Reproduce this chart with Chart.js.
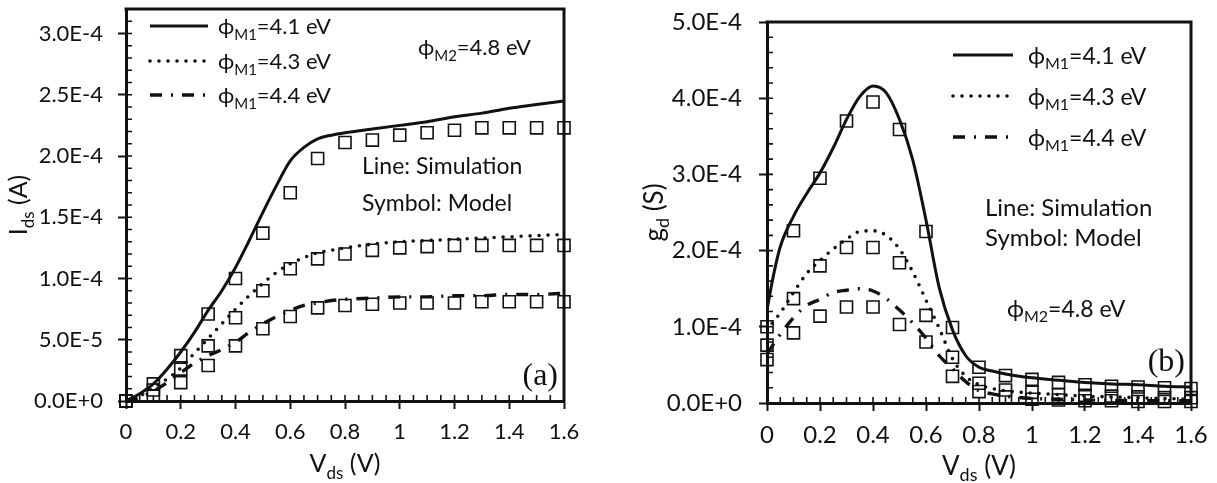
<!DOCTYPE html>
<html>
<head>
<meta charset="utf-8">
<script src="https://cdn.jsdelivr.net/npm/chart.js@4"></script>
<style>
  html, body { margin: 0; padding: 0; background: #fff; }
  #wrap { position: relative; width: 1217px; height: 483px; }
  canvas { position: absolute; top: 0; }
  #ids { left: 0; }
  #gd { left: 600px; }
</style>
</head>
<body>
<div id="wrap">
  <canvas id="ids" width="600" height="483"></canvas>
  <canvas id="gd" width="617" height="483"></canvas>
</div>
<script>
// Vds sweep (V)
const vModel = [0, 0.1, 0.2, 0.3, 0.4, 0.5, 0.6, 0.7, 0.8, 0.9, 1.0, 1.1, 1.2, 1.3, 1.4, 1.5, 1.6];
const vSimIds = [0, 0.05, 0.1, 0.15, 0.2, 0.25, 0.3, 0.35, 0.4, 0.45, 0.5, 0.55, 0.6, 0.65, 0.7, 0.75, 0.8, 0.9, 1.0, 1.1, 1.2, 1.3, 1.4, 1.5, 1.6];
const vSimGd = [0, 0.02, 0.05, 0.1, 0.15, 0.2, 0.25, 0.3, 0.35, 0.4, 0.45, 0.5, 0.55, 0.6, 0.65, 0.7, 0.75, 0.8, 0.85, 0.9, 1.0, 1.1, 1.2, 1.3, 1.4, 1.5, 1.6];

// (a) drain current Ids (A), simulation
const idsSim41 = [0, 0.6e-5, 1.4e-5, 2.6e-5, 4.0e-5, 5.6e-5, 7.4e-5, 9.0e-5, 1.09e-4, 1.31e-4, 1.54e-4, 1.76e-4, 1.96e-4, 2.07e-4, 2.14e-4, 2.17e-4, 2.19e-4, 2.22e-4, 2.25e-4, 2.28e-4, 2.32e-4, 2.35e-4, 2.39e-4, 2.42e-4, 2.45e-4];
const idsSim43 = [0, 0.4e-5, 1.1e-5, 1.8e-5, 2.7e-5, 3.9e-5, 5.1e-5, 6.3e-5, 7.5e-5, 8.6e-5, 9.6e-5, 1.05e-4, 1.12e-4, 1.17e-4, 1.21e-4, 1.23e-4, 1.25e-4, 1.28e-4, 1.30e-4, 1.31e-4, 1.32e-4, 1.33e-4, 1.34e-4, 1.35e-4, 1.36e-4];
const idsSim44 = [0, 0.3e-5, 0.8e-5, 1.5e-5, 2.3e-5, 3.1e-5, 3.7e-5, 4.2e-5, 4.8e-5, 5.6e-5, 6.3e-5, 6.9e-5, 7.4e-5, 7.8e-5, 8.0e-5, 8.2e-5, 8.3e-5, 8.4e-5, 8.5e-5, 8.5e-5, 8.6e-5, 8.6e-5, 8.7e-5, 8.7e-5, 8.8e-5];
// (a) model
const idsMod41 = [0, 1.4e-5, 3.7e-5, 7.1e-5, 1.00e-4, 1.37e-4, 1.70e-4, 1.98e-4, 2.11e-4, 2.13e-4, 2.17e-4, 2.19e-4, 2.21e-4, 2.23e-4, 2.23e-4, 2.23e-4, 2.23e-4];
const idsMod43 = [0, 0.9e-5, 2.6e-5, 4.5e-5, 6.8e-5, 9.0e-5, 1.08e-4, 1.16e-4, 1.20e-4, 1.23e-4, 1.25e-4, 1.26e-4, 1.27e-4, 1.27e-4, 1.27e-4, 1.27e-4, 1.27e-4];
const idsMod44 = [0, 0.4e-5, 1.5e-5, 2.9e-5, 4.5e-5, 5.9e-5, 6.9e-5, 7.6e-5, 7.8e-5, 7.9e-5, 8.0e-5, 8.0e-5, 8.0e-5, 8.1e-5, 8.1e-5, 8.1e-5, 8.1e-5];

// (b) drain conductance gd (S), simulation
const gdSim41 = [1.22e-4, 1.60e-4, 2.05e-4, 2.45e-4, 2.75e-4, 3.02e-4, 3.35e-4, 3.72e-4, 4.02e-4, 4.16e-4, 4.07e-4, 3.72e-4, 3.19e-4, 2.40e-4, 1.51e-4, 0.96e-4, 0.62e-4, 0.47e-4, 0.42e-4, 0.38e-4, 0.33e-4, 0.30e-4, 0.27e-4, 0.25e-4, 0.24e-4, 0.22e-4, 0.21e-4];
const gdSim43 = [0.95e-4, 1.05e-4, 1.18e-4, 1.45e-4, 1.70e-4, 1.87e-4, 2.02e-4, 2.15e-4, 2.25e-4, 2.26e-4, 2.20e-4, 2.02e-4, 1.72e-4, 1.35e-4, 0.98e-4, 0.58e-4, 0.35e-4, 0.24e-4, 0.19e-4, 0.16e-4, 0.13e-4, 0.11e-4, 0.09e-4, 0.08e-4, 0.07e-4, 0.06e-4, 0.05e-4];
const gdSim44 = [0.65e-4, 0.75e-4, 0.90e-4, 1.12e-4, 1.28e-4, 1.36e-4, 1.45e-4, 1.48e-4, 1.50e-4, 1.47e-4, 1.37e-4, 1.22e-4, 1.05e-4, 0.85e-4, 0.62e-4, 0.45e-4, 0.28e-4, 0.16e-4, 0.12e-4, 0.09e-4, 0.06e-4, 0.05e-4, 0.04e-4, 0.035e-4, 0.03e-4, 0.03e-4, 0.03e-4];
// (b) model
const gdMod41 = [1.00e-4, 2.26e-4, 2.95e-4, 3.70e-4, 3.95e-4, 3.59e-4, 2.25e-4, 0.99e-4, 0.47e-4, 0.36e-4, 0.31e-4, 0.27e-4, 0.24e-4, 0.22e-4, 0.21e-4, 0.20e-4, 0.19e-4];
const gdMod43 = [0.76e-4, 1.37e-4, 1.80e-4, 2.04e-4, 2.04e-4, 1.84e-4, 1.15e-4, 0.60e-4, 0.26e-4, 0.17e-4, 0.14e-4, 0.11e-4, 0.10e-4, 0.09e-4, 0.08e-4, 0.07e-4, 0.07e-4];
const gdMod44 = [0.57e-4, 0.92e-4, 1.14e-4, 1.26e-4, 1.26e-4, 1.03e-4, 0.80e-4, 0.35e-4, 0.15e-4, 0.08e-4, 0.05e-4, 0.04e-4, 0.03e-4, 0.03e-4, 0.02e-4, 0.02e-4, 0.02e-4];

const workFns = ['4.1', '4.3', '4.4'];

const ink = '#111';
const sans = 'Lato, "Noto Sans", sans-serif';
const serif = '"Liberation Serif", serif';

const lineStyles = [
  { dash: [], width: 3, cap: 'butt' },             // solid
  { dash: [0, 9], width: 3.6, cap: 'round' },      // dotted
  { dash: [12, 9, 2, 9], width: 3.4, cap: 'butt' } // dash-dot
];

const pairs = (xs, ys) => xs.map((x, i) => ({ x, y: ys[i] }));

function simSet(xs, ys, k) {
  const s = lineStyles[k];
  return {
    data: pairs(xs, ys),
    borderColor: ink,
    borderWidth: s.width,
    borderDash: s.dash,
    borderCapStyle: s.cap,
    pointRadius: 0,
    cubicInterpolationMode: 'monotone',
    fill: false,
  };
}

function modelSet(xs, ys) {
  return {
    data: pairs(xs, ys),
    showLine: false,
    pointStyle: 'rect',
    pointRadius: 8.5,
    pointBorderWidth: 1.6,
    pointBorderColor: ink,
    pointBackgroundColor: 'rgba(0,0,0,0)',
    clip: false,
  };
}

// label with a subscript part: parts = [[text, isSub], ...]
function rich(ctx, x, y, parts, size, align) {
  const sub = Math.round(size * 0.68);
  const fontOf = s => `${s ? sub : size}px ${sans}`;
  let w = 0;
  for (const [t, s] of parts) { ctx.font = fontOf(s); w += ctx.measureText(t).width; }
  let cx = align === 'center' ? x - w / 2 : x;
  ctx.textAlign = 'left';
  ctx.textBaseline = 'alphabetic';
  for (const [t, s] of parts) {
    ctx.font = fontOf(s);
    ctx.fillText(t, cx, y + (s ? size * 0.26 : 0));
    cx += ctx.measureText(t).width;
  }
}

const phi = (m, v) => [['\u03d5', false], [m, true], ['=' + v + ' eV', false]];

const decor = {
  id: 'decor',
  afterDraw(chart, args, o) {
    const { ctx, chartArea: a, scales: { x, y } } = chart;
    ctx.save();
    ctx.strokeStyle = ink;
    ctx.fillStyle = ink;

    // closing frame on top and right
    ctx.lineWidth = 3;
    ctx.setLineDash([]);
    ctx.lineCap = 'butt';
    ctx.beginPath();
    ctx.moveTo(a.left - 1.5, a.top);
    ctx.lineTo(a.right, a.top);
    ctx.lineTo(a.right, a.bottom + 1.5);
    ctx.stroke();

    // minor ticks, pointing into the plot
    ctx.lineWidth = 1.6;
    ctx.beginPath();
    for (let i = 0; i <= 32; i++) {
      const px = x.getPixelForValue(i * 0.05);
      ctx.moveTo(px, a.bottom);
      ctx.lineTo(px, a.bottom - 6);
    }
    const n = Math.round(o.ymax / o.yminor);
    for (let i = 0; i <= n; i++) {
      const py = y.getPixelForValue(i * o.yminor);
      ctx.moveTo(a.left, py);
      ctx.lineTo(a.left + 6, py);
    }
    ctx.stroke();

    // legend: line samples + labels
    o.legendY.forEach((ly, k) => {
      const s = lineStyles[k];
      ctx.lineWidth = s.width;
      ctx.setLineDash(s.dash);
      ctx.lineCap = s.cap;
      ctx.beginPath();
      ctx.moveTo(o.legendX[0], ly);
      ctx.lineTo(o.legendX[1], ly);
      ctx.stroke();
      rich(ctx, o.legendX[2], ly + o.fs * 0.37, phi('M1', workFns[k]), o.fs);
    });
    ctx.setLineDash([]);

    // notes
    rich(ctx, o.m2[0], o.m2[1] + o.fs * 0.37, phi('M2', '4.8'), o.fs);
    ctx.font = `${o.noteSize}px ${sans}`;
    ctx.textAlign = 'left';
    ctx.textBaseline = 'alphabetic';
    ctx.fillText('Line: Simulation', o.note[0], o.note[1] + o.noteSize * 0.37);
    ctx.fillText('Symbol: Model', o.note[0], o.note[2] + o.noteSize * 0.37);

    // panel tag
    ctx.font = `${o.tagSize}px ${serif}`;
    ctx.textAlign = 'right';
    ctx.textBaseline = 'middle';
    ctx.fillText(o.tag, o.tagPos[0], o.tagPos[1]);

    // axis titles
    const ts = o.titleSize;
    rich(ctx, (a.left + a.right) / 2, o.xTitleY + ts * 0.37, [['V', false], ['ds', true], [' (V)', false]], ts, 'center');
    ctx.translate(o.yTitleX, (a.top + a.bottom) / 2);
    ctx.rotate(-Math.PI / 2);
    rich(ctx, 0, ts * 0.37, o.yTitle, ts, 'center');

    ctx.restore();
  }
};

// keep the plot box exactly where the padding/afterFit values put it
function noEdgePadding(s) {
  s.paddingTop = 0;
  s.paddingBottom = 0;
  s.paddingLeft = 0;
  s.paddingRight = 0;
}

function buildChart(id, datasets, o) {
  const tickFont = { family: sans, size: o.tickSize, lineHeight: 1 };
  return new Chart(document.getElementById(id), {
    type: 'line',
    data: { datasets },
    plugins: [decor],
    options: {
      responsive: false,
      animation: false,
      events: [],
      layout: { padding: o.pad, autoPadding: false },
      plugins: { legend: { display: false }, tooltip: { enabled: false }, decor: o },
      scales: {
        x: {
          type: 'linear',
          min: 0,
          max: 1.6,
          ticks: {
            stepSize: 0.2,
            color: ink,
            font: tickFont,
            padding: o.xPad,
            maxRotation: 0,
            callback: v => String(+v.toFixed(1)),
          },
          grid: { drawOnChartArea: false, color: ink, tickLength: 8, tickWidth: 2 },
          border: { color: ink, width: 3 },
          afterFit: s => { s.height = o.xh; noEdgePadding(s); },
        },
        y: {
          type: 'linear',
          min: 0,
          max: o.ymax,
          ticks: {
            stepSize: o.ystep,
            includeBounds: false,
            color: ink,
            font: tickFont,
            padding: o.yPad,
            callback: v => v.toExponential(1).toUpperCase(),
          },
          grid: { drawOnChartArea: false, color: ink, tickLength: 8, tickWidth: 2 },
          border: { color: ink, width: 3 },
          afterFit: s => { s.width = o.yw; noEdgePadding(s); },
        },
      },
    },
  });
}

buildChart('ids', [
  simSet(vSimIds, idsSim41, 0),
  simSet(vSimIds, idsSim43, 1),
  simSet(vSimIds, idsSim44, 2),
  modelSet(vModel, idsMod41),
  modelSet(vModel, idsMod43),
  modelSet(vModel, idsMod44),
], {
  ymax: 3.2e-4, ystep: 5e-5, yminor: 1e-5,
  yw: 126, xh: 82, pad: { left: 0, top: 9, right: 36, bottom: 0 },
  tickSize: 22, xPad: 12, yPad: 15,
  fs: 22, noteSize: 23, titleSize: 25,
  legendX: [150, 208, 218], legendY: [26, 61, 95],
  m2: [418, 47], note: [362, 165, 202],
  tag: '(a)', tagSize: 32, tagPos: [558, 377],
  xTitleY: 463, yTitleX: 18,
  yTitle: [['I', false], ['ds', true], [' (A)', false]],
});

buildChart('gd', [
  simSet(vSimGd, gdSim41, 0),
  simSet(vSimGd, gdSim43, 1),
  simSet(vSimGd, gdSim44, 2),
  modelSet(vModel, gdMod41),
  modelSet(vModel, gdMod43),
  modelSet(vModel, gdMod44),
], {
  ymax: 5e-4, ystep: 1e-4, yminor: 2e-5,
  yw: 167, xh: 80, pad: { left: 0, top: 22, right: 26, bottom: 0 },
  tickSize: 24, xPad: 12, yPad: 17,
  fs: 23, noteSize: 24, titleSize: 26,
  legendX: [353, 413, 428], legendY: [55, 96, 137],
  m2: [407, 308], note: [385, 207, 237],
  tag: '(b)', tagSize: 32, tagPos: [585, 363],
  xTitleY: 465, yTitleX: 53,
  yTitle: [['g', false], ['d', true], [' (S)', false]],
});
</script>
</body>
</html>
